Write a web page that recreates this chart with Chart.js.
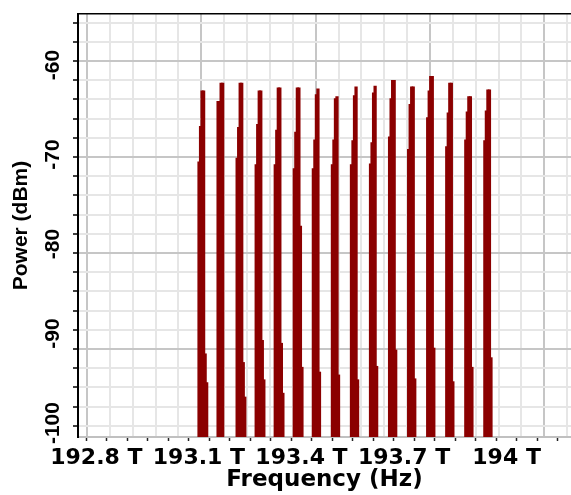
<!DOCTYPE html>
<html>
<head>
<meta charset="utf-8">
<script src="https://cdn.jsdelivr.net/npm/chart.js@4.4.1/dist/chart.umd.min.js"></script>
<style>
  html, body { margin: 0; padding: 0; background: #fff; }
  #wrap { width: 571px; height: 495px; }
</style>
</head>
<body>
<div id="wrap"><canvas id="chart_spectrum" width="571" height="495"></canvas></div>
<script>
// channel frequencies (THz)
var channelFreqs = [193.10, 193.15, 193.20, 193.25, 193.30, 193.35, 193.40, 193.45,
                    193.50, 193.55, 193.60, 193.65, 193.70, 193.75, 193.80, 193.85];
// offsets of the analyser samples around each channel (THz)
var sampleOffsets = [-0.006, -0.002, 0.002, 0.006, 0.010, 0.014];

// power of every sample, dBm (null = below the plot)
var powerLow      = [-70.5, -64.2, -70.1, -70.8, -70.8, -71.2, -71.2, -70.8, -70.8, -70.7, -67.9, -69.2, -65.9, -68.9, -68.2, -68.3];
var powerMid      = [-66.8, -64.2, -66.9, -66.6, -67.2, -67.4, -68.2, -68.2, -68.3, -68.5, -63.9, -64.5, -63.1, -65.4, -65.3, -65.2];
var powerShoulder = [-63.1, -62.3, -62.3, -63.1, -62.8, -62.8, -63.5, -63.9, -63.6, -63.3, -62.0, -62.7, -61.6, -62.3, -63.7, -63.0];
var powerPeak     = [-63.1, -62.3, -62.3, -63.1, -62.8, -62.8, -62.9, -63.7, -62.7, -62.6, -62.0, -62.7, -61.6, -62.3, -63.7, -63.0];
var powerTail1    = [-90.5, null, -91.4, -89.1, -89.4, -77.2, -92.4, -92.7, -93.2, -91.8, -90.1, -93.1, -89.9, -93.4, -91.9, -90.9];
var powerTail2    = [-93.5, null, -95.0, -93.2, -94.6, -91.9, null, null, null, null, null, null, null, null, null, null];

// axis ticks
var xLabelValues = [192.8, 193.1, 193.4, 193.7, 194.0];
var xTickLabels  = ['192.8 T', '193.1 T', '193.4 T', '193.7 T', '194 T'];
var yLabelValues = [-60, -70, -80, -90, -100];
var yTickLabels  = ['-60', '-70', '-80', '-90', '-100'];

var X_MIN = 192.7764, X_MAX = 194.070;   // frequency range of the plot
var XL_MIN = 192.7776, XL_MAX = 194.157; // range used for the printed labels
var Y_MIN = -99.17, Y_MAX = -55.10;
var YL_MIN = -101.56, YL_MAX = -54.30;

var sampleSets = [powerLow, powerMid, powerShoulder, powerPeak, powerTail1, powerTail2];
var points = [];
channelFreqs.forEach(function (f, c) {
  sampleSets.forEach(function (set, s) {
    if (set[c] !== null) points.push({ x: f + sampleOffsets[s], y: set[c] });
  });
});

var gridMinor = '#e6e6e6', gridMajor = '#c6c6c6';

function stepTicks(start, step, lo, hi) {
  var t = [];
  for (var i = 0; ; i++) {
    var v = +(start + i * step).toFixed(4);
    if (v > hi + 1e-9) break;
    if (v >= lo - 1e-9) t.push({ value: v });
  }
  return t;
}
function isMajor(v, list) {
  return list.some(function (m) { return Math.abs(m - v) < 1e-6; });
}

var chart_spectrum = new Chart(document.getElementById('chart_spectrum'), {
  type: 'bar',
  data: {
    datasets: [{
      data: points,
      backgroundColor: '#8b0000',
      borderWidth: 0,
      base: Y_MIN,
      barThickness: 2.6,
      clip: 0
    }]
  },
  options: {
    animation: false,
    responsive: false,
    devicePixelRatio: 1,
    events: [],
    layout: { padding: { top: 14, left: 0, right: 0, bottom: 0 } },
    plugins: { legend: { display: false }, tooltip: { enabled: false } },
    scales: {
      x: {
        type: 'linear', position: 'bottom', weight: 0,
        min: X_MIN, max: X_MAX, bounds: 'data', offset: false,
        afterBuildTicks: function (s) { s.ticks = stepTicks(192.8, 0.06, X_MIN, X_MAX); },
        afterFit: function (s) { s.height = 0; },
        ticks: { display: false },
        grid: {
          offset: false, drawTicks: false, lineWidth: 2,
          color: function (c) { return isMajor(c.tick.value, xLabelValues) ? gridMajor : gridMinor; }
        },
        border: { display: true, color: '#c0c0c0', width: 2 }
      },
      xl: {
        type: 'linear', position: 'bottom', weight: 1,
        min: XL_MIN, max: XL_MAX, bounds: 'data',
        afterBuildTicks: function (s) { s.ticks = stepTicks(192.8, 0.06, XL_MIN, XL_MAX); },
        afterFit: function (s) { s.height = 58; },
        ticks: {
          autoSkip: false, maxRotation: 0, minRotation: 0, padding: 4,
          color: '#000',
          font: { family: 'DejaVu Sans', size: 22, weight: 'bold' },
          callback: function (v) {
            for (var i = 0; i < xLabelValues.length; i++) {
              if (Math.abs(xLabelValues[i] - v) < 1e-6) return xTickLabels[i];
            }
            return '';
          }
        },
        grid: { display: true, drawOnChartArea: false, drawTicks: true, tickLength: 4, tickColor: '#222', tickWidth: 1.5 },
        border: { display: false },
        title: {
          display: true, text: 'Frequency (Hz)', color: '#000',
          font: { family: 'DejaVu Sans', size: 23, weight: 'bold' },
          padding: { top: 0, bottom: 1 }
        }
      },
      xt: {
        type: 'linear', position: 'top',
        min: X_MIN, max: X_MAX, bounds: 'data',
        afterFit: function (s) { s.height = 0; },
        ticks: { display: false },
        grid: { display: false },
        border: { display: true, color: '#000', width: 1.5, dash: [2, 2] }
      },
      y: {
        type: 'linear', position: 'left', weight: 0,
        min: Y_MIN, max: Y_MAX, bounds: 'data', beginAtZero: false,
        afterBuildTicks: function (s) { s.ticks = stepTicks(-98, 2, Y_MIN, Y_MAX); },
        afterFit: function (s) { s.width = 0; },
        ticks: { display: false },
        grid: {
          lineWidth: 2, drawTicks: true, tickLength: 5, tickColor: '#000', tickWidth: 1.5,
          color: function (c) { return c.tick.value % 10 === 0 ? gridMajor : gridMinor; }
        },
        border: { display: true, color: '#000', width: 2 }
      },
      yl: {
        type: 'linear', position: 'left', weight: 1,
        min: YL_MIN, max: YL_MAX, bounds: 'data',
        afterBuildTicks: function (s) {
          s.ticks = yLabelValues.map(function (v) { return { value: v }; });
        },
        afterFit: function (s) { s.width = 78; },
        ticks: {
          minRotation: 90, maxRotation: 90, crossAlign: 'center', padding: -4,
          color: '#000',
          font: { family: 'Liberation Sans', size: 21, weight: 'bold' },
          callback: function (v) { return yTickLabels[yLabelValues.indexOf(v)]; }
        },
        grid: { display: false },
        border: { display: false },
        title: {
          display: true, text: 'Power (dBm)', color: '#000',
          font: { family: 'Liberation Sans', size: 21, weight: 'bold' },
          padding: { top: 9, bottom: 0 }
        }
      }
    }
  },
  plugins: [{
    id: 'whiteBackground',
    beforeDraw: function (chart) {
      var ctx = chart.ctx;
      ctx.save();
      ctx.fillStyle = '#fff';
      ctx.fillRect(0, 0, chart.width, chart.height);
      ctx.restore();
    }
  }]
});
</script>
</body>
</html>
